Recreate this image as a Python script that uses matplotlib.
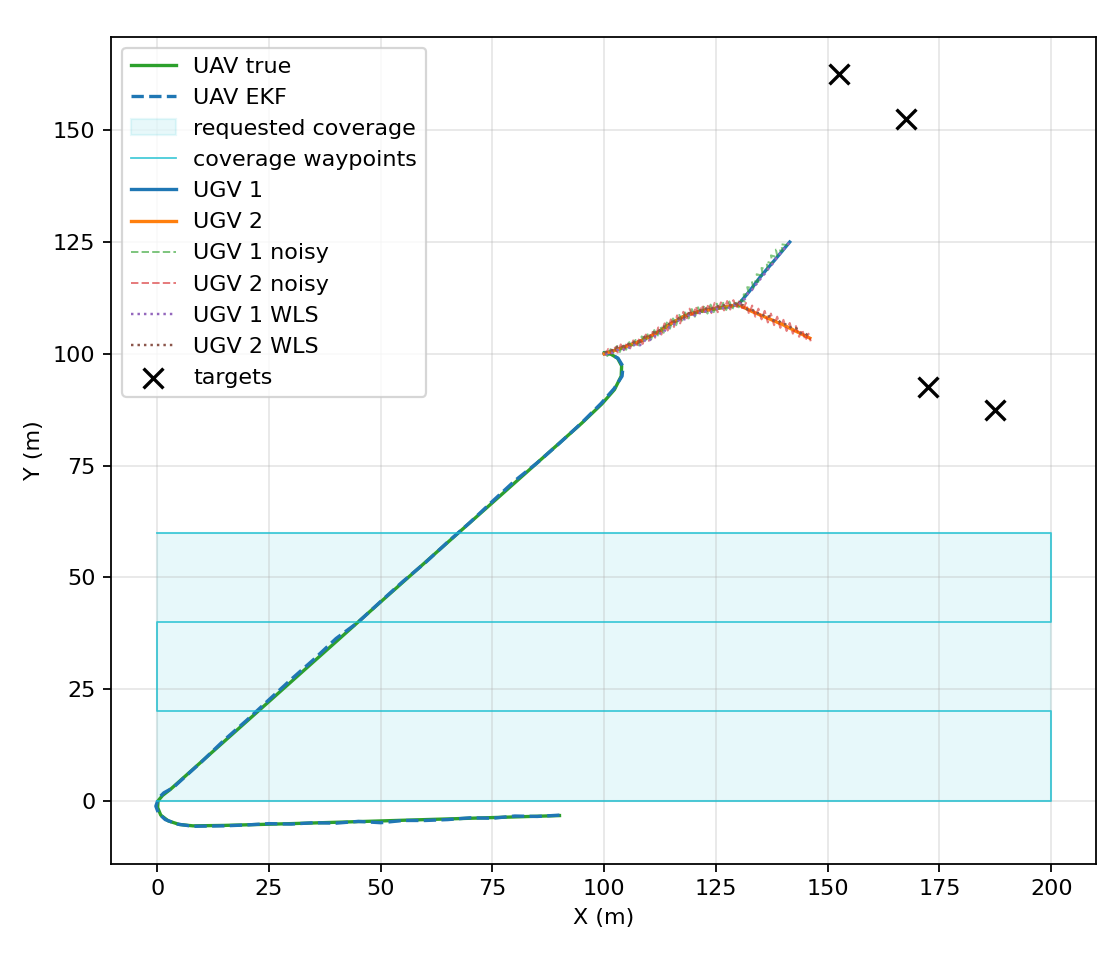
import matplotlib.pyplot as plt
from matplotlib.patches import Rectangle

# UAV trajectory (true and EKF estimate), metres
uav_true_x = [90, 70, 50, 30, 15, 8, 5, 2.5, 0.8, 0.1, 0.2, 1.2, 3, 25, 50, 75, 95,
              99.5, 102.3, 103.8, 103.9, 103, 101.5, 100]
uav_true_y = [-3.3, -3.9, -4.5, -5.1, -5.5, -5.6, -5.3, -4.5, -3.2, -1.5, 0, 1.2, 2.6,
              22.2, 44.5, 66.7, 84.5, 88.8, 92, 95, 97.3, 99, 99.9, 100.2]

uav_ekf_x = [90, 85, 80, 75, 70, 65, 60, 55, 50, 45, 40, 35, 30, 25, 20, 15, 8, 4.5, 1.8,
             0.3, -0.3, 0.3, 1.5, 3.5, 10, 15, 20, 25, 30, 35, 40, 45, 50, 55, 60, 65, 70,
             75, 80, 85, 90, 95, 99.3, 102.2, 104, 104.2, 103.1, 101.3, 99.8]
uav_ekf_y = [-3.2, -3.5, -3.4, -3.9, -3.8, -4.2, -4.4, -4.4, -4.9, -4.6, -5.0, -4.9, -5.2,
             -5.1, -5.4, -5.6, -5.7, -5.2, -4.2, -2.8, -1.2, 0.6, 1.8, 2.9, 8.8, 13.6, 18.0,
             22.6, 27.2, 31.6, 36.3, 40.0, 44.6, 49.1, 53.3, 57.9, 62.3, 67.0, 71.6, 75.6,
             80.0, 84.6, 88.9, 92.2, 95, 97.2, 99, 100, 100.2]

# requested coverage area and lawnmower waypoints
cov_x0, cov_x1, cov_y0, cov_y1 = 0, 200, 0, 60
wp_x = [0, 200, 200, 0, 0, 200, 200, 0]
wp_y = [0, 0, 20, 20, 40, 40, 60, 60]

# UGV ground truth
ugv1_x = [100, 104, 108, 112, 115, 118, 121, 125, 130, 132.5, 135, 138, 141.5]
ugv1_y = [100, 101.3, 102.8, 104.8, 106.8, 108.5, 109.4, 110.1, 111, 114, 117.3, 120.8, 125]
ugv2_x = [100, 104, 108, 112, 115, 118, 121, 125, 130, 133, 136.5, 140, 143, 146]
ugv2_y = [100, 101.3, 102.8, 104.8, 106.8, 108.5, 109.4, 110.1, 111, 109.5, 108, 106.5, 105, 103.5]

# noisy UGV measurements
ugv1_noisy_x = [100.0, 100.7, 101.4, 102.1, 102.8, 103.5, 104.2, 104.9, 105.6, 106.3, 107.0,
                107.7, 108.4, 109.1, 109.8, 110.5, 111.2, 111.9, 112.6, 113.3, 114.0, 114.7,
                115.4, 116.1, 116.8, 117.5, 118.2, 118.9, 119.6, 120.3, 121.0, 121.7, 122.4,
                123.1, 123.8, 124.5, 125.2, 125.9, 126.6, 127.3, 128.0, 128.7, 129.4, 130.1,
                130.6, 131.4, 131.2, 132.4, 132.0, 133.4, 133.0, 134.5, 134.1, 135.5, 135.2,
                136.6, 136.3, 137.7, 137.3, 138.8, 138.4, 139.9, 139.6, 141.0, 141.3]
ugv1_noisy_y = [100.6, 99.5, 101.0, 100.1, 101.7, 100.4, 102.2, 100.9, 102.6, 101.4, 103.1,
                101.9, 103.9, 102.5, 104.6, 103.2, 105.3, 103.9, 106.1, 104.7, 107.0, 105.6,
                107.9, 106.4, 108.7, 107.2, 109.5, 107.9, 110.0, 108.3, 110.4, 108.8, 110.8,
                109.0, 111.0, 109.3, 111.2, 109.6, 111.4, 109.8, 111.7, 110.0, 111.9, 110.4,
                112.0, 111.7, 113.3, 113.4, 114.9, 114.7, 116.3, 116.1, 117.8, 117.4, 119.2,
                118.8, 120.6, 120.2, 122.0, 121.6, 123.3, 123.0, 124.5, 124.3, 125.3]
ugv2_noisy_x = [100.2, 100.9, 101.6, 102.3, 103.0, 103.7, 104.4, 105.1, 105.8, 106.5, 107.2,
                107.9, 108.6, 109.3, 110.0, 110.7, 111.4, 112.1, 112.8, 113.5, 114.2, 114.9,
                115.6, 116.3, 117.0, 117.7, 118.4, 119.1, 119.8, 120.5, 121.2, 121.9, 122.6,
                123.3, 124.0, 124.7, 125.4, 126.1, 126.8, 127.5, 128.2, 128.9, 129.6, 130.3,
                131.0, 131.7, 132.4, 133.1, 133.8, 134.5, 135.2, 135.9, 136.6, 137.3, 138.0,
                138.7, 139.4, 140.1, 140.8, 141.5, 142.2, 142.9, 143.6, 144.3, 145.0, 145.7,
                146.2]
ugv2_noisy_y = [99.6, 101.1, 100.0, 101.6, 100.3, 102.1, 100.8, 102.5, 101.2, 103.0, 101.6,
                103.6, 102.2, 104.3, 102.9, 105.0, 103.6, 105.9, 104.3, 106.8, 105.2, 107.7,
                106.0, 108.6, 106.8, 109.4, 107.7, 110.1, 108.2, 110.6, 108.5, 110.9, 108.9,
                111.1, 109.1, 111.4, 109.3, 111.5, 109.7, 111.8, 109.9, 112.0, 110.2, 112.1,
                109.7, 111.4, 108.9, 110.8, 108.3, 110.1, 107.7, 109.6, 107.0, 109.0, 106.4,
                108.3, 105.8, 107.6, 105.1, 106.9, 104.5, 106.2, 103.8, 105.4, 103.0, 104.5,
                102.8]

# weighted least squares estimates
ugv1_wls_x = [100.3, 101, 102, 103, 104, 105, 106, 107, 108, 109, 110, 111, 112, 113, 114,
              115, 116, 117, 118, 119, 120, 121, 122, 123, 124, 125, 126, 127, 128, 129, 130,
              130.8, 131.5, 132.2, 133, 133.7, 134.5, 135.2, 136, 136.7, 137.5, 138.2, 139,
              139.7, 140.5, 141.5]
ugv1_wls_y = [99.8, 100.4, 100.2, 100.9, 100.7, 101.5, 101.3, 102.2, 101.9, 103.0, 102.8,
              104.0, 103.9, 105.3, 105.1, 106.6, 106.6, 107.9, 107.7, 108.7, 108.4, 109.3,
              109.0, 109.7, 109.4, 110.1, 109.9, 110.5, 110.3, 110.9, 110.7, 111.9, 112.3,
              113.6, 114.2, 115.2, 116.1, 117.1, 118.0, 119.0, 119.9, 121.1, 121.8, 123.0,
              123.7, 125.0]
ugv2_wls_x = [100.2, 101, 102, 103, 104, 105, 106, 107, 108, 109, 110, 111, 112, 113, 114,
              115, 116, 117, 118, 119, 120, 121, 122, 123, 124, 125, 126, 127, 128, 129, 130,
              131, 132, 133, 134, 135, 136, 137, 138, 139, 140, 141, 142, 143, 144, 145, 146]
ugv2_wls_y = [100.2, 100.9, 100.8, 101.6, 101.5, 102.3, 102.0, 102.9, 102.7, 103.8, 103.6,
              104.8, 104.7, 106.1, 106.0, 107.3, 107.1, 108.3, 108.1, 109.1, 108.9, 109.8,
              109.6, 110.3, 110.1, 110.7, 110.5, 111.0, 110.8, 111.3, 111.0, 110.9, 109.9,
              110.0, 109.0, 109.2, 108.2, 108.4, 107.4, 107.4, 106.6, 106.6, 105.6, 105.7,
              104.6, 104.6, 103.5]

target_x = [152.5, 167.5, 172.5, 187.5]
target_y = [162.5, 152.5, 92.5, 87.5]

fig, ax = plt.subplots(figsize=(7, 6), dpi=160)

ax.plot(uav_true_x, uav_true_y, color="tab:green", lw=1.5, label="UAV true")
ax.plot(uav_ekf_x, uav_ekf_y, "--", color="tab:blue", lw=1.5, label="UAV EKF")
ax.add_patch(Rectangle((cov_x0, cov_y0), cov_x1 - cov_x0, cov_y1 - cov_y0,
                       color="tab:cyan", alpha=0.1, label="requested coverage"))
ax.plot(wp_x, wp_y, color="tab:cyan", lw=0.8, alpha=0.8, label="coverage waypoints")
ax.plot(ugv1_x, ugv1_y, color="tab:blue", lw=1.5, label="UGV 1")
ax.plot(ugv2_x, ugv2_y, color="tab:orange", lw=1.5, label="UGV 2")
ax.plot(ugv1_noisy_x, ugv1_noisy_y, "--", color="tab:green", lw=0.9, alpha=0.6, label="UGV 1 noisy")
ax.plot(ugv2_noisy_x, ugv2_noisy_y, "--", color="tab:red", lw=0.9, alpha=0.6, label="UGV 2 noisy")
ax.plot(ugv1_wls_x, ugv1_wls_y, ":", color="tab:purple", lw=1.1, label="UGV 1 WLS")
ax.plot(ugv2_wls_x, ugv2_wls_y, ":", color="tab:brown", lw=1.1, label="UGV 2 WLS")
ax.scatter(target_x, target_y, marker="x", color="k", s=80, lw=1.5, label="targets", zorder=5)

ax.set_aspect("equal")
ax.set_xlabel("X (m)")
ax.set_ylabel("Y (m)")
ax.grid(True, alpha=0.3)
ax.legend(loc="upper left")

fig.tight_layout()
fig.savefig("out.png", dpi=160)
